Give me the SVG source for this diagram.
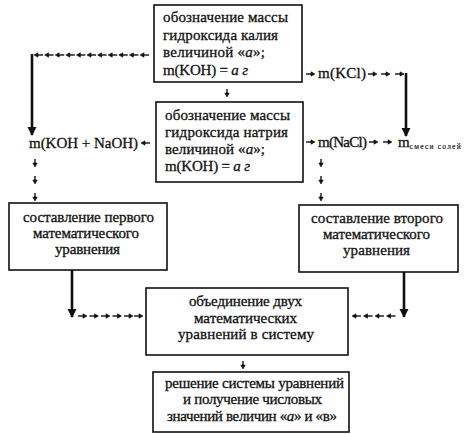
<svg xmlns="http://www.w3.org/2000/svg" width="467" height="434" viewBox="0 0 467 434" font-family="Liberation Serif, Times New Roman, serif">
<style>
.box{fill:#fff;stroke:#111;stroke-width:1.6}
.t{font-family:"Liberation Serif","Times New Roman",serif;font-size:15px;fill:#111;stroke:#111;stroke-width:0.3}
.c{text-anchor:middle}
.thick{stroke:#111;stroke-width:2.6;fill:none}
.u{stroke:#111;stroke-width:1.4;fill:#111}
.sub{font-size:7.5px;stroke-width:0.15}
</style>
<defs>
<marker id="ah" viewBox="0 0 10 10" refX="9" refY="5" markerWidth="3.6" markerHeight="4" orient="auto" markerUnits="strokeWidth">
<path d="M0,0 L10,5 L0,10 z" fill="#111"/>
</marker>
<g id="ra" class="u"><path d="M0,0 H6"/><path d="M5,-2.2 L9,0 L5,2.2 z" stroke-width="0.6"/></g>
<g id="la" class="u"><path d="M3,0 H9"/><path d="M4,-2.2 L0,0 L4,2.2 z" stroke-width="0.6"/></g>
<g id="da" class="u"><path d="M0,-7 V-2"/><path d="M-2.2,-3 L0,1 L2.2,-3 z" stroke-width="0.6"/></g>
</defs>
<g id="connectors">
<use href="#la" x="34" y="55"/>
<use href="#la" x="44.6" y="55"/>
<use href="#la" x="55.2" y="55"/>
<use href="#la" x="65.8" y="55"/>
<use href="#la" x="76.4" y="55"/>
<use href="#la" x="87" y="55"/>
<use href="#la" x="97.6" y="55"/>
<use href="#la" x="108.2" y="55"/>
<use href="#la" x="118.8" y="55"/>
<use href="#la" x="129.4" y="55"/>
<use href="#la" x="140" y="55"/>
<path class="thick" d="M32,54 V135" marker-end="url(#ah)"/>
<use href="#da" x="227" y="96"/>
<use href="#da" x="35" y="166"/>
<use href="#da" x="35" y="183"/>
<use href="#da" x="35" y="200"/>
<use href="#da" x="321" y="166"/>
<use href="#da" x="321" y="183"/>
<use href="#da" x="321" y="200"/>
<use href="#da" x="243" y="368"/>
<use href="#ra" x="306" y="74"/>
<use href="#ra" x="368" y="74"/>
<use href="#ra" x="381" y="74"/>
<use href="#ra" x="395" y="74"/>
<path class="thick" d="M406,73 V136" marker-end="url(#ah)"/>
<use href="#la" x="141" y="143"/>
<use href="#ra" x="306" y="142"/>
<use href="#ra" x="369" y="142"/>
<use href="#ra" x="383" y="142"/>
<path class="thick" d="M72,270 V317" marker-end="url(#ah)"/>
<use href="#ra" x="78" y="316"/>
<use href="#ra" x="89.5" y="316"/>
<use href="#ra" x="101" y="316"/>
<use href="#ra" x="112.5" y="316"/>
<use href="#ra" x="124" y="316"/>
<use href="#ra" x="134" y="316"/>
<path class="thick" d="M404,272 V317" marker-end="url(#ah)"/>
<use href="#la" x="352" y="316"/>
<use href="#la" x="363.5" y="316"/>
<use href="#la" x="375" y="316"/>
<use href="#la" x="386.5" y="316"/>
</g>
<g id="n1">
<rect class="box" x="154" y="5" width="148" height="77"/>
<text class="t" x="163" y="22" textLength="125">обозначение массы</text>
<text class="t" x="163" y="39.5" textLength="115">гидроксида калия</text>
<text class="t" x="163" y="57" textLength="102">величиной «<tspan font-style="italic">а</tspan>»;</text>
<text class="t" x="163" y="74.5" textLength="85">m(KOH) = <tspan font-style="italic">а г</tspan></text>
</g>
<g id="n2">
<rect class="box" x="156" y="102" width="147" height="80"/>
<text class="t" x="165" y="120" textLength="125">обозначение массы</text>
<text class="t" x="165" y="137" textLength="123">гидроксида натрия</text>
<text class="t" x="165" y="154" textLength="100">величиной «<tspan font-style="italic">а</tspan>»;</text>
<text class="t" x="165" y="170.5" textLength="85">m(KOH) = <tspan font-style="italic">а г</tspan></text>
</g>
<g id="kcl">
<text class="t" x="318" y="78" textLength="48">m(KCl)</text>
</g>
<g id="mix">
<text class="t" x="29" y="148" textLength="109">m(KOH + NaOH)</text>
</g>
<g id="nacl">
<text class="t" x="318" y="147" textLength="49">m(NaCl)</text>
</g>
<g id="msalt">
<text class="t" x="398" y="147">m<tspan class="sub" dy="1.5" textLength="51">смеси солей</tspan></text>
</g>
<g id="n3">
<rect class="box" x="9" y="203" width="158" height="67"/>
<text class="t c" x="88.5" y="222" textLength="131">составление первого</text>
<text class="t c" x="86" y="237.5" textLength="106">математического</text>
<text class="t c" x="87.5" y="253.5" textLength="65">уравнения</text>
</g>
<g id="n5">
<rect class="box" x="299" y="205" width="159" height="67"/>
<text class="t c" x="377" y="223" textLength="132">составление второго</text>
<text class="t c" x="376.5" y="239" textLength="107">математического</text>
<text class="t c" x="376.5" y="255" textLength="67">уравнения</text>
</g>
<g id="n4">
<rect class="box" x="146" y="288" width="202" height="67"/>
<text class="t c" x="245.5" y="306" textLength="113">объединение двух</text>
<text class="t c" x="245.5" y="322.5" textLength="103">математических</text>
<text class="t c" x="246" y="338.5" textLength="136">уравнений в систему</text>
</g>
<g id="n6">
<rect class="box" x="153" y="372" width="196" height="60"/>
<text class="t c" x="254.5" y="387.5" textLength="179">решение системы уравнений</text>
<text class="t c" x="252.5" y="404" textLength="139">и получение числовых</text>
<text class="t c" x="252" y="420.5" textLength="170">значений величин «<tspan font-style="italic">а</tspan>» и «в»</text>
</g>
</svg>
